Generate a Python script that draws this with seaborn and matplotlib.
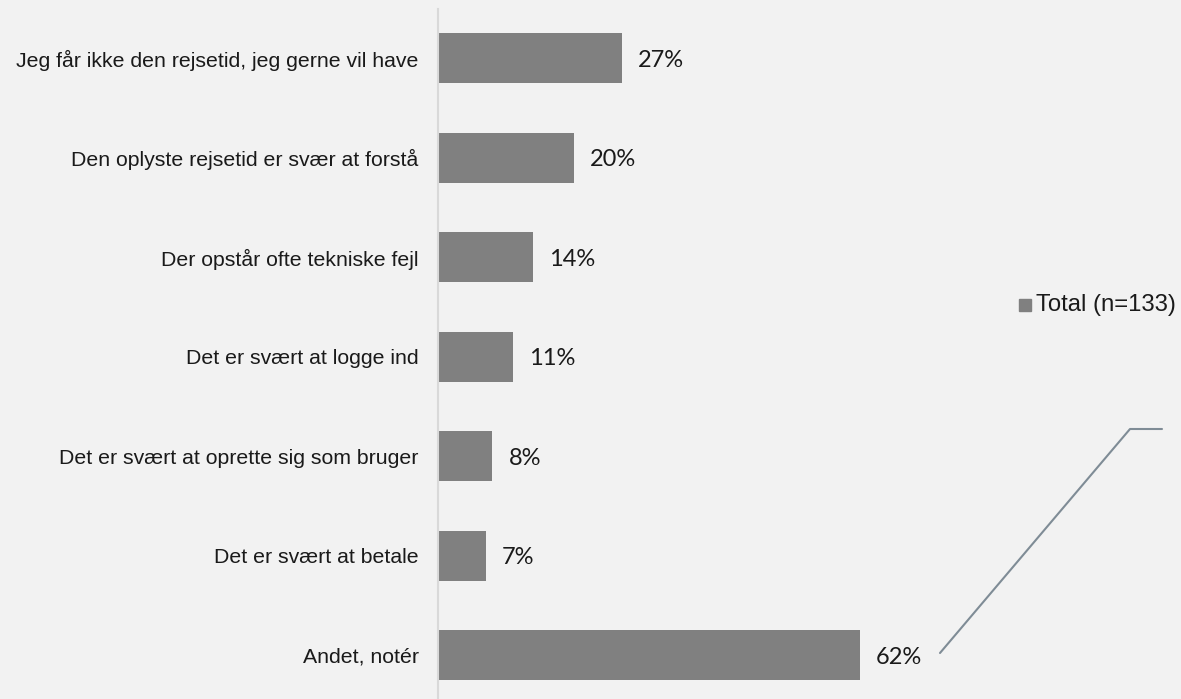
import matplotlib
matplotlib.use("Agg")
import matplotlib.pyplot as plt
import matplotlib.transforms as mtransforms
import seaborn as sns
import pandas as pd
from matplotlib.patches import Rectangle

categories = [
    "Jeg får ikke den rejsetid, jeg gerne vil have",
    "Den oplyste rejsetid er svær at forstå",
    "Der opstår ofte tekniske fejl",
    "Det er svært at logge ind",
    "Det er svært at oprette sig som bruger",
    "Det er svært at betale",
    "Andet, notér",
]
values = [27, 20, 14, 11, 8, 7, 62]
series_name = "Total (n=133)"

BG = "#f2f2f2"
BAR = "#808080"

sns.set_theme(style="white")
plt.rcParams["font.family"] = ["Liberation Sans", "DejaVu Sans"]

df = pd.DataFrame({"kategori": categories, "andel": values})

W, H = 1181, 699
fig = plt.figure(figsize=(W / 100, H / 100), dpi=100, facecolor=BG)
ax_left, ax_right = 438 / W, 1000 / W
ax_top_px, ax_bottom_px = 8.5, 705
ax = fig.add_axes([ax_left, (H - ax_bottom_px) / H, ax_right - ax_left,
                   (ax_bottom_px - ax_top_px) / H])
ax.set_facecolor(BG)

sns.barplot(data=df, y="kategori", x="andel", orient="h", color=BAR,
            width=0.5, saturation=1, linewidth=0, ax=ax)

px_per_unit = 6.81
ax.set_xlim(0, (ax_right - ax_left) * W / px_per_unit)

for s in ["top", "right", "bottom"]:
    ax.spines[s].set_visible(False)
ax.spines["left"].set_color("#d9d9d9")
ax.spines["left"].set_linewidth(1.5)
ax.set_xticks([])
ax.set_xlabel("")
ax.set_ylabel("")
ax.tick_params(axis="y", length=0, pad=14, labelsize=15.3, labelcolor="#1a1a1a")

# value labels, nudged right of the bar end and slightly down
label_offset = mtransforms.offset_copy(ax.transData, fig=fig, x=16, y=-2,
                                       units="dots")
for i, v in enumerate(values):
    ax.text(v, i, f"{v}%", va="center", ha="left", transform=label_offset,
            fontsize=17, color="#1a1a1a", family=["Lato", "DejaVu Sans"])

# legend entry
fig.patches.append(Rectangle((1019 / W, 1 - 311 / H), 12 / W, 12 / H,
                             transform=fig.transFigure, color=BAR))
fig.text(1036 / W, 1 - 305 / H, series_name, ha="left", va="center",
         fontsize=17.2, color="#1a1a1a")

# callout leader line for the last label
fig.lines.append(plt.Line2D([940 / W, 1130 / W, 1162 / W],
                            [1 - 653 / H, 1 - 429 / H, 1 - 429 / H],
                            transform=fig.transFigure, color="#7f8c96", lw=1.5))

fig.savefig("out.png", dpi=100, facecolor=BG)
